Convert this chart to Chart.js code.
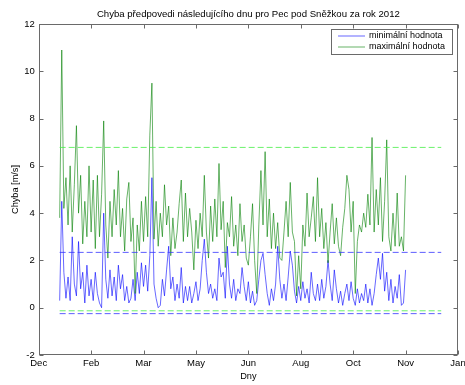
<!DOCTYPE html>
<html>
<head>
<meta charset="utf-8">
<script src="https://cdn.jsdelivr.net/npm/chart.js@4/dist/chart.umd.min.js"></script>
<style>
  html, body { margin: 0; padding: 0; background: #fff; }
  #wrap { width: 465px; height: 385px; }
</style>
</head>
<body>
<div id="wrap"><canvas id="chart"></canvas></div>
<script>
// x axis runs in MATLAB datenums, ticks every 50 days
const axisStart = 734850;
const axisEnd = 735250;
const monthLabels = ['Dec', 'Feb', 'Mar', 'May', 'Jun', 'Aug', 'Oct', 'Nov', 'Jan'];

// first day of the series and spacing of the read-off points (days)
const startDay = 734870;
const dayStep = 2;

// chyba - minimalni hodnota (blue)
const minValues = [
  0.3, 4.5, 1.5, 0.4, 1.3, 0.3, 3.0, 1.0, 0.5, 2.8,
  0.8, 1.5, 0.2, 1.8, 0.5, 1.2, 0.3, 1.5, 0.6, 0.2,
  0.0, 4.0, 1.2, 0.4, 1.6, 0.5, 1.3, 0.3, 1.8, 0.8,
  1.4, 0.3, 0.9, 0.2, 0.4, 1.2, 0.3, 1.5, 0.6, 1.9,
  0.9, 1.8, 0.7, 2.2, 5.5, 1.0, 0.4, 0.0, 0.1, 1.2,
  0.5, 1.6, 2.6, 0.8, 1.3, 0.3, 1.0, 0.4, 1.7, 0.2,
  0.9, 0.3, 0.9, 0.2, 0.6, 1.1, 0.3, 0.8, 2.0, 2.9,
  1.5, 0.6, 1.0, 0.4, 0.8, 0.3, 2.1, 1.3, 1.5, 0.4,
  2.6, 1.0, 0.4, 1.2, 0.3, 0.8, 0.6, 1.7, 0.9, 0.3,
  1.1, 0.2, 0.7, 0.1, 0.3, 1.2, 2.0, 2.3, 1.4, 0.6,
  0.1, 0.8, 0.3, 1.0, 2.6, 1.2, 0.4, 1.0, 0.3, 1.3,
  2.4, 1.8, 0.7, 0.2, 0.9, 0.3, 1.1, 0.4, 0.8, 0.2,
  1.5, 0.6, 0.3, 1.0, 0.3, 1.2, 0.4, 0.9, 2.0, 1.0,
  0.3, 1.6, 0.8, 0.2, 0.7, 0.1, 0.6, 1.0, 0.3, 1.1,
  0.4, 0.1, 0.8, 0.2, 0.6, 0.3, 1.0, 0.2, 0.8, 0.1,
  0.6, 1.4, 2.1, 1.2, 2.3, 0.7, 1.5, 0.3, 1.2, 0.2,
  0.9, 0.4, 1.4, 0.1, 0.2, 1.6
];

// chyba - maximalni hodnota (green)
const maxValues = [
  3.8, 10.9, 4.2, 5.5, 3.5, 6.0, 3.2, 5.2, 7.7, 4.0,
  5.6, 2.7, 4.5, 3.0, 6.0, 3.2, 5.4, 2.5, 5.6, 3.0,
  4.8, 7.9, 3.5, 2.1, 4.5, 3.0, 5.0, 3.5, 5.8, 3.0,
  4.2, 2.4, 4.6, 5.3, 2.8, 3.8, 0.6, 3.5, 2.4, 4.5,
  2.8, 4.7, 3.0, 7.3, 9.5, 2.9, 4.5, 2.6, 4.0, 3.0,
  5.2, 3.5, 4.3, 2.2, 3.8, 2.5, 3.2, 4.4, 5.4, 2.8,
  4.85, 3.0, 4.2, 3.2, 1.6, 3.7, 2.5, 4.0, 3.0, 5.6,
  3.2, 2.1, 4.3, 2.8, 4.6, 3.0, 6.1, 3.3, 4.5, 1.7,
  3.6, 3.0, 4.7, 2.6, 3.5, 2.2, 4.4, 2.8, 3.5, 2.1,
  1.8, 3.0, 4.4, 2.0, 0.6, 3.5, 5.8, 3.5, 6.6, 3.0,
  4.6, 2.5, 4.0, 2.5, 3.6, 2.1, 2.0, 3.2, 4.5, 3.0,
  5.3, 3.2, 2.8, 0.5, 2.2, 0.8, 3.5, 2.6, 4.85, 3.0,
  3.8, 4.7, 2.8, 5.5, 3.0, 4.2, 2.5, 3.6, 1.9, 3.2,
  4.4, 2.7, 3.8, 2.6, 2.2, 3.4, 4.2, 5.6, 5.0, 3.2,
  4.5, 0.6, 2.8, 3.5, 3.2, 4.0, 3.4, 4.8, 3.5, 7.2,
  3.2, 5.0, 3.5, 5.5, 2.8, 4.5, 7.1, 3.0, 2.4, 4.0,
  2.6, 4.85, 2.6, 3.0, 2.4, 5.6
];

// dashed limit lines: x extent and levels
const limitDays = [734870, 735234];
const maxLimits = [6.78, -0.13];
const minLimits = [2.34, -0.25];

const titleText = 'Chyba předpovedi následujícího dnu pro Pec pod Sněžkou za rok 2012';
const xTitle = 'Dny';
const yTitle = 'Chyba [m/s]';
const legendLabels = ['minimální hodnota', 'maximální hodnota'];

const FONT = '"Liberation Sans", Arial, Helvetica, sans-serif';
Chart.defaults.font.family = FONT;
Chart.defaults.font.size = 9.5;
Chart.defaults.color = '#000';

const toPoints = vals => vals.map((v, i) => ({ x: startDay + i * dayStep, y: v }));
const limitLine = level => limitDays.map(d => ({ x: d, y: level }));

const datasets = [
  { label: legendLabels[1], data: toPoints(maxValues), borderColor: '#008000', order: 1 },
  { label: legendLabels[0], data: toPoints(minValues), borderColor: '#0000ff', order: 2 }
];
maxLimits.forEach(l => datasets.push({ data: limitLine(l), borderColor: '#44ee44', borderDash: [6, 3], order: 0 }));
minLimits.forEach(l => datasets.push({ data: limitLine(l), borderColor: '#3333ff', borderDash: [6, 3], order: 0 }));
datasets.forEach(d => { d.borderWidth = d.borderDash ? 0.8 : 0.6; d.pointRadius = 0; d.tension = 0; d.fill = false; });

// MATLAB style box, inward ticks, titles and legend
const matlabFrame = {
  id: 'matlabFrame',
  afterDraw(chart) {
    const { ctx, chartArea: a, scales: { x, y } } = chart;
    const L = Math.round(a.left) + 0.5, R = Math.round(a.right) - 0.5;
    const T = Math.round(a.top) + 0.5, B = Math.round(a.bottom) - 0.5;
    ctx.save();
    ctx.strokeStyle = '#6a6a6a';
    ctx.lineWidth = 1;
    ctx.strokeRect(L, T, R - L, B - T);
    ctx.beginPath();
    x.ticks.forEach(t => {
      const px = Math.round(x.getPixelForValue(t.value)) + 0.5;
      ctx.moveTo(px, B); ctx.lineTo(px, B - 4);
      ctx.moveTo(px, T); ctx.lineTo(px, T + 4);
    });
    y.ticks.forEach(t => {
      const py = Math.round(y.getPixelForValue(t.value)) + 0.5;
      ctx.moveTo(L, py); ctx.lineTo(L + 4, py);
      ctx.moveTo(R, py); ctx.lineTo(R - 4, py);
    });
    ctx.stroke();

    ctx.fillStyle = '#000';
    ctx.textAlign = 'center';
    ctx.textBaseline = 'middle';
    ctx.font = '9.6px ' + FONT;
    const cx = (a.left + a.right) / 2;
    ctx.fillText(titleText, cx, 14.5);
    ctx.font = '9.2px ' + FONT;
    ctx.fillText(xTitle, cx, 376);
    ctx.save();
    ctx.translate(15, (a.top + a.bottom) / 2);
    ctx.rotate(-Math.PI / 2);
    ctx.fillText(yTitle, 0, 0);
    ctx.restore();

    // legend box
    const bx = 331.5, by = 29.5, bw = 121, bh = 25;
    ctx.fillStyle = '#fff';
    ctx.fillRect(bx, by, bw, bh);
    ctx.strokeStyle = '#6a6a6a';
    ctx.lineWidth = 1;
    ctx.strokeRect(bx, by, bw, bh);
    const rows = [{ c: '#0000ff', t: legendLabels[0], yy: 36 }, { c: '#008000', t: legendLabels[1], yy: 47 }];
    ctx.textAlign = 'left';
    ctx.font = '9px ' + FONT;
    rows.forEach(r => {
      ctx.strokeStyle = r.c;
      ctx.lineWidth = 0.6;
      ctx.beginPath();
      ctx.moveTo(338, r.yy); ctx.lineTo(365, r.yy);
      ctx.stroke();
      ctx.fillStyle = '#000';
      ctx.fillText(r.t, 369, r.yy);
    });
    ctx.restore();
  }
};

new Chart(document.getElementById('chart'), {
  type: 'line',
  data: { datasets: datasets },
  options: {
    responsive: true,
    maintainAspectRatio: false,
    animation: false,
    layout: { padding: { top: 24, right: 7, left: 0, bottom: 0 } },
    plugins: { legend: { display: false }, tooltip: { enabled: false } },
    scales: {
      x: {
        type: 'linear',
        min: axisStart,
        max: axisEnd,
        grid: { display: false, drawTicks: false },
        border: { display: false },
        ticks: {
          stepSize: 50,
          autoSkip: false,
          maxRotation: 0,
          padding: 3,
          callback: (v, i) => monthLabels[i]
        },
        afterFit: s => { s.height = 30; s.paddingLeft = 0; s.paddingRight = 0; }
      },
      y: {
        min: -2,
        max: 12,
        grid: { display: false, drawTicks: false },
        border: { display: false },
        ticks: { stepSize: 2, padding: 4 },
        afterFit: s => { s.width = 38.7; s.paddingTop = 0; s.paddingBottom = 0; }
      }
    }
  },
  plugins: [matlabFrame]
});
</script>
</body>
</html>
